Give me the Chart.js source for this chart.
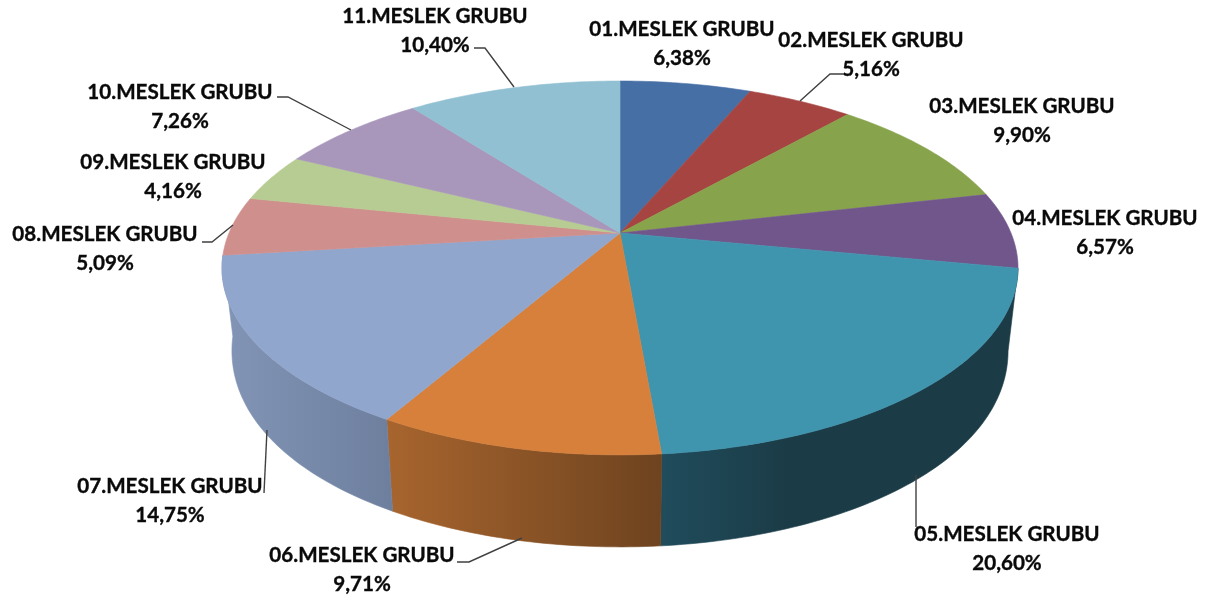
<!DOCTYPE html>
<html>
<head>
<meta charset="utf-8">
<title>Meslek grubu</title>
<script src="https://cdn.jsdelivr.net/npm/chart.js@4"></script>
<style>
  html, body { margin: 0; padding: 0; background: #fff; }
  canvas { display: block; }
</style>
</head>
<body>
<canvas id="pie-chart" width="1211" height="601"></canvas>
<script>
const categories = [
  "01.MESLEK GRUBU", "02.MESLEK GRUBU", "03.MESLEK GRUBU", "04.MESLEK GRUBU",
  "05.MESLEK GRUBU", "06.MESLEK GRUBU", "07.MESLEK GRUBU", "08.MESLEK GRUBU",
  "09.MESLEK GRUBU", "10.MESLEK GRUBU", "11.MESLEK GRUBU",
];
const shares = [6.38, 5.16, 9.9, 6.57, 20.6, 9.71, 14.75, 5.09, 4.16, 7.26, 10.4];

const sliceColors = [
  "#466fa5", "#a64442", "#87a34c", "#71568c", "#3f94ae", "#d6803b",
  "#91a6cd", "#cf8f8d", "#b7cc92", "#a897bb", "#90c0d2",
];
// left and right shade of the rim, only the front slices show one
const rimShades = {
  4: ["#204c5c", "#1b3c47", 0.35],
  5: ["#a8652e", "#6e431f", 1],
  6: ["#8295b6", "#6e7f9e", 1],
};

// label centre x, first line y
const labelSpots = [
  [682, 29], [871, 40], [1022, 106], [1105, 218], [1007, 534], [362, 555],
  [170, 486], [105, 234], [173, 162], [180, 92], [435, 16],
];
const leaderLines = [
  [[474, 48], [485, 48], [514, 87]],
  [[843, 74], [830, 74], [800, 101]],
  [[277, 97], [288, 97], [351, 130]],
  [[202, 242], [212, 242], [233, 225]],
  [[264, 493], [267, 430]],
  [[457, 562], [469, 562], [522, 538]],
  [[916, 527], [916, 475]],
];

// tilted disc, the apex sits above the ellipse centre because of the perspective
const view = { cx: 620, cy: 233, a: 391, b: 180.4, k: 0.187 };
const rim = { scaleX: 0.975, drop: 92, sag: 14 };

function topPoint(angle) {
  const u = Math.cos(angle);
  const v = Math.sin(angle);
  const w = 1 - view.k * v;
  return [view.cx + (view.a * u) / w, view.cy + (view.b * v) / w];
}

function bottomPoint(angle) {
  const p = topPoint(angle);
  const drop = rim.drop - rim.sag * (1 - Math.sin(angle)) ** 2;
  return [view.cx + (p[0] - view.cx) * rim.scaleX, p[1] + drop];
}

function arcPoints(pointFn, start, end) {
  const points = [];
  const steps = Math.max(6, Math.ceil((end - start) * 60));
  for (let i = 0; i <= steps; i++) {
    points.push(pointFn(start + ((end - start) * i) / steps));
  }
  return points;
}

function tracePath(ctx, points) {
  ctx.beginPath();
  points.forEach((p, i) => {
    if (i === 0) ctx.moveTo(p[0], p[1]);
    else ctx.lineTo(p[0], p[1]);
  });
  ctx.closePath();
}

const perspectivePie = {
  id: "perspectivePie",
  beforeDatasetsDraw(chart) {
    const ctx = chart.ctx;
    const arcs = chart.getDatasetMeta(0).data;

    ctx.save();
    ctx.lineJoin = "round";

    // rim first, the top face covers whatever sticks out behind it
    arcs.forEach((arc, i) => {
      const shade = rimShades[i];
      if (!shade) return;
      const outline = arcPoints(topPoint, arc.startAngle, arc.endAngle).concat(
        arcPoints(bottomPoint, arc.startAngle, arc.endAngle).reverse()
      );
      const xs = outline.map((p) => p[0]);
      const left = Math.min(...xs);
      const right = Math.max(...xs);
      const gradient = ctx.createLinearGradient(left, 0, right, 0);
      gradient.addColorStop(0, shade[0]);
      gradient.addColorStop(shade[2], shade[1]);
      if (shade[2] < 1) gradient.addColorStop(1, shade[1]);
      tracePath(ctx, outline);
      ctx.fillStyle = gradient;
      ctx.strokeStyle = gradient;
      ctx.lineWidth = 0.6;
      ctx.fill();
      ctx.stroke();
    });

    arcs.forEach((arc) => {
      const outline = [[view.cx, view.cy]].concat(
        arcPoints(topPoint, arc.startAngle, arc.endAngle)
      );
      tracePath(ctx, outline);
      ctx.fillStyle = arc.options.backgroundColor;
      ctx.strokeStyle = arc.options.backgroundColor;
      ctx.lineWidth = 0.6;
      ctx.fill();
      ctx.stroke();
    });

    ctx.restore();
    return false;
  },
  afterDraw(chart) {
    const ctx = chart.ctx;
    ctx.save();

    ctx.strokeStyle = "#404040";
    ctx.lineWidth = 1.4;
    leaderLines.forEach((line) => {
      ctx.beginPath();
      line.forEach((p, i) => {
        if (i === 0) ctx.moveTo(p[0], p[1]);
        else ctx.lineTo(p[0], p[1]);
      });
      ctx.stroke();
    });

    ctx.font = "bold 20.6px Lato";
    ctx.fillStyle = "#0a0a0a";
    ctx.strokeStyle = "#0a0a0a";
    ctx.lineWidth = 0.35;
    ctx.textAlign = "center";
    ctx.textBaseline = "middle";
    categories.forEach((name, i) => {
      const spot = labelSpots[i];
      const percent = shares[i].toFixed(2).replace(".", ",") + "%";
      ctx.fillText(name, spot[0], spot[1]);
      ctx.strokeText(name, spot[0], spot[1]);
      ctx.fillText(percent, spot[0], spot[1] + 29);
      ctx.strokeText(percent, spot[0], spot[1] + 29);
    });

    ctx.restore();
  },
};

new Chart(document.getElementById("pie-chart").getContext("2d"), {
  type: "pie",
  plugins: [perspectivePie],
  data: {
    labels: categories,
    datasets: [
      {
        data: shares,
        backgroundColor: sliceColors,
        borderWidth: 0,
      },
    ],
  },
  options: {
    responsive: false,
    animation: false,
    plugins: {
      legend: { display: false },
      tooltip: { enabled: false },
    },
  },
});
</script>
</body>
</html>
